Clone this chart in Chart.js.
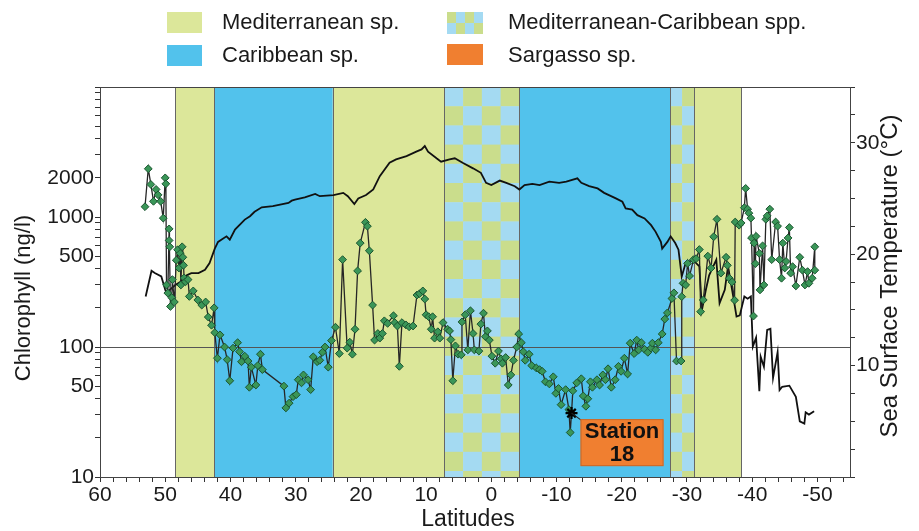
<!DOCTYPE html>
<html><head><meta charset="utf-8">
<script src="https://cdn.jsdelivr.net/npm/chart.js@4/dist/chart.umd.min.js"></script>
<style>
html,body{margin:0;padding:0;background:#fff;}
#wrap{position:relative;width:919px;height:531px;overflow:hidden;}
#c{position:absolute;left:0;top:0;}
.lg{position:absolute;font-family:"Liberation Sans",Arial,sans-serif;font-size:22px;color:#1a1a1a;line-height:22px;white-space:nowrap;}
.sw{position:absolute;}
</style></head><body>
<div id="wrap">
<canvas id="c" width="919" height="531"></canvas>
<div class="sw" style="left:167px;top:12px;width:35px;height:21px;background:#dce79a"></div>
<div class="lg" style="left:222px;top:11px">Mediterranean sp.</div>
<div class="sw" style="left:167px;top:45px;width:35px;height:21px;background:#52c2ec"></div>
<div class="lg" style="left:222px;top:44px">Caribbean sp.</div>
<div class="sw" style="left:447px;top:12px;width:36px;height:22px;background:repeating-conic-gradient(#a4daf2 0 25%, #cadd8c 0 50%) 0 0/18px 22px"></div>
<div class="lg" style="left:508px;top:11px">Mediterranean-Caribbean spp.</div>
<div class="sw" style="left:447px;top:44px;width:36px;height:21px;background:#f07f30"></div>
<div class="lg" style="left:508px;top:44px">Sargasso sp.</div>
</div>
<script>
// ---- data ----
const chlLat = [53.1,52.6,52.2,51.8,51.4,51.1,50.7,50.3,50.0,49.9,49.8,49.6,49.4,49.4,49.3,49.2,49.0,48.9,48.6,48.3,48.1,47.9,47.7,47.6,47.4,47.3,47.2,47.1,46.9,46.5,46.3,45.7,45.0,44.4,43.8,43.4,42.9,42.5,42.4,42.0,41.6,40.9,40.5,40.1,39.6,38.9,38.6,38.3,37.8,37.3,37.1,36.8,36.1,35.8,35.4,35.1,31.8,31.5,31.0,30.4,29.9,29.6,29.1,28.8,28.1,27.7,27.3,26.7,26.3,25.9,25.5,25.0,24.5,23.9,23.3,22.8,22.1,21.7,21.3,20.9,20.5,20.1,19.3,19.0,18.7,18.2,17.9,17.4,17.1,16.7,16.4,15.9,15.0,14.8,14.4,14.1,13.7,13.1,12.6,12.0,11.4,11.0,10.5,10.2,10.0,9.6,9.2,9.0,8.7,8.2,7.9,7.4,6.7,6.4,6.2,5.9,5.5,5.1,4.6,4.5,4.0,3.6,3.2,2.8,2.6,1.9,1.6,1.2,0.9,0.6,0.3,-0.1,-0.6,-1.1,-1.5,-1.7,-2.2,-2.6,-3.0,-3.4,-3.9,-4.2,-4.6,-4.9,-5.2,-5.8,-6.2,-6.9,-7.4,-7.8,-8.3,-8.9,-9.5,-9.9,-10.3,-10.7,-11.4,-11.9,-12.1,-12.3,-12.5,-13.1,-13.8,-14.1,-14.5,-14.8,-15.2,-15.5,-16.2,-16.6,-17.1,-17.5,-17.9,-18.4,-19.0,-19.5,-19.9,-20.4,-20.9,-21.3,-21.9,-22.3,-22.6,-23.0,-23.5,-24.0,-24.5,-24.7,-25.2,-25.6,-26.2,-26.6,-27.0,-27.7,-28.0,-28.4,-29.1,-29.2,-29.4,-29.8,-30.1,-30.4,-31.0,-31.4,-31.9,-32.1,-32.5,-33.2,-33.7,-34.1,-34.6,-35.2,-36.0,-36.2,-36.5,-36.9,-37.3,-37.4,-38.0,-38.3,-38.8,-39.0,-39.3,-39.5,-39.8,-39.9,-40.2,-40.3,-40.5,-40.6,-41.1,-41.2,-41.6,-41.8,-42.1,-42.3,-42.7,-43.0,-43.6,-43.9,-44.2,-44.5,-44.7,-45.0,-45.2,-45.5,-45.7,-45.9,-46.2,-46.7,-47.3,-47.7,-48.1,-48.5,-48.7,-49.2,-49.6,-49.6];
const chlVal = [1200,2350,1780,1320,1630,1480,1320,980,2000,1800,300,260,810,660,590,205,240,330,222,465,560,405,525,300,590,490,425,340,317,330,245,270,230,210,222,170,147,200,129,82,124,100,80,55,98,108,92,77,85,78,49,70,51,72,88,67,50,34,37,41.5,43,56,53,61,56,47,84,77,79,91,100,70,112,142,89,470,98,109,88,137,385,630,910,850,550,210,113,127,117,127,159,152,174,154,145,71,154,148,143,145,251,257,270,234,177,171,137,171,117,131,117,154,137,133,114,55,102,88,87,156,177,95,190,127,95,93,150,182,120,133,113,85,75,93,81,75,83,51,61,79,100,126,108,92,79,88,72,69,67,65,54,52,59,44,48,36,47,33,22,31,46,53,57,42,35,40,54,49,56,51,61,56,68,49,56,71,65,82,62,107,89,113,95,108,96,91,98,107,95,108,126,164,183,236,261,78,78,244,309,300,440,352,470,478,562,187,230,500,405,705,960,370,490,425,338,316,229,915,865,900,1180,1660,1150,1070,980,690,173,630,437,710,525,275,600,300,960,1020,1150,470,915,850,470,338,630,405,455,690,830,370,415,295,490,390,300,380,309,338,590,390];
const tempLat = [53.0,52.1,51.6,50.6,50.0,49.8,49.3,48.5,47.7,46.7,46.0,44.9,43.9,43.2,42.4,41.9,41.4,40.6,40.1,39.3,37.8,37.0,36.3,35.2,33.5,31.1,30.6,30.1,28.6,27.0,26.3,24.2,22.7,22.0,21.0,20.4,19.2,18.1,17.1,15.6,14.6,13.0,11.5,10.7,10.2,9.7,8.4,7.7,6.4,5.6,4.4,2.8,1.6,0.8,0.0,-1.3,-2.3,-3.6,-4.3,-5.1,-6.3,-7.4,-8.9,-10.4,-11.5,-13.2,-13.8,-15.0,-16.3,-17.3,-19.1,-20.1,-20.6,-21.6,-22.4,-23.5,-24.5,-25.2,-26.0,-26.2,-27.0,-27.5,-28.2,-28.7,-29.2,-29.8,-30.9,-31.9,-32.3,-32.9,-33.4,-34.5,-35.0,-35.8,-36.3,-37.1,-37.6,-38.1,-38.8,-39.3,-39.8,-40.1,-40.6,-41.1,-41.3,-41.8,-42.3,-42.8,-43.2,-43.9,-44.2,-44.6,-45.7,-46.7,-47.3,-48.0,-48.2,-48.7,-49.5];
const tempVal = [16.2,18.5,18.3,18.0,16.8,16.5,16.8,17.2,17.5,18.1,18.3,18.3,18.6,19.2,20.5,21.1,21.3,21.6,21.3,22.2,23.1,23.4,23.8,24.2,24.3,24.6,24.8,24.9,25.1,25.4,25.2,25.3,25.5,25.2,24.5,25.0,25.3,25.8,27.0,28.2,28.5,28.8,29.2,29.4,29.7,29.2,28.6,28.3,28.5,28.6,28.2,27.7,27.3,26.4,26.2,26.6,26.4,26.1,25.8,26.2,26.3,26.2,26.5,26.4,26.5,26.8,26.4,26.1,25.9,25.5,25.0,24.7,24.1,24.0,23.5,23.2,22.6,22.0,21.1,20.5,21.1,21.6,21.0,20.4,18.0,19.2,19.5,18.9,15.0,16.8,18.1,19.5,15.6,16.8,18.9,16.2,14.4,14.5,16.2,16.0,16.2,11.7,12.5,7.7,10.8,9.9,13.2,13.3,8.9,11.2,7.8,8.1,8.2,7.2,5.0,4.8,5.8,5.6,5.9];
const stationLat = -12.3, stationChl = 31;
const stationText = ['Station', '18'];
const zoneFrom = [48.5, 42.5, 24.3, 7.2, -4.3, -27.4, -31.1];
const zoneTo   = [42.5, 24.3, 7.2, -4.3, -27.4, -31.1, -38.3];
const zoneType = ['med', 'car', 'med', 'mix', 'car', 'mix', 'med'];
const xTickLabels = [60,50,40,30,20,10,0,-10,-20,-30,-40,-50];
const chlTickLabels = [10,50,100,500,1000,2000];
const tempTickLabels = [10,20,30];
const xTitle = 'Latitudes', yTitle = 'Chlorophyll (ng/l)', y2Title = 'Sea Surface Temperature (°C)';

// ---- style ----
const FONT = '"Liberation Sans", Arial, sans-serif';
const zoneColor = {med:'#dce79a', car:'#52c2ec'};
const checkA = '#a4daf2', checkB = '#cadd8c';

const bgPlugin = {
  id:'bg',
  beforeDraw(chart){
    const {ctx, chartArea:a, scales:{x}} = chart;
    ctx.save();
    const H = a.bottom - a.top;
    zoneFrom.forEach((f,i)=>{
      const x1 = x.getPixelForValue(f), x2 = x.getPixelForValue(zoneTo[i]);
      const l = Math.min(x1,x2), w = Math.abs(x2-x1);
      if (zoneType[i] === 'mix') {
        const cols = Math.max(2, Math.round(w/18));
        const cw = w/cols, ch = 19.2;
        const rows = Math.ceil(H/ch);
        for (let r=0;r<rows;r++) for (let c=0;c<cols;c++){
          ctx.fillStyle = ((r+c)%2===0) ? checkA : checkB;
          const yy = a.top + r*ch;
          ctx.fillRect(l + c*cw, yy, cw+0.5, Math.min(ch+0.5, a.bottom-yy));
        }
      } else {
        ctx.fillStyle = zoneColor[zoneType[i]];
        ctx.fillRect(l, a.top, w, H);
      }
    });
    ctx.strokeStyle = '#666'; ctx.lineWidth = 1;
    const edges = new Set([...zoneFrom, ...zoneTo]);
    edges.forEach(v=>{
      const px = Math.round(x.getPixelForValue(v)) + 0.5;
      ctx.beginPath(); ctx.moveTo(px, a.top); ctx.lineTo(px, a.bottom); ctx.stroke();
    });
    ctx.restore();
  },
  afterDraw(chart){
    const {ctx, chartArea:a, scales:{x, y}} = chart;
    ctx.save();
    ctx.strokeStyle = '#444'; ctx.lineWidth = 1;
    ctx.strokeRect(Math.round(a.left)+0.5, Math.round(a.top)+0.5, Math.round(a.right-a.left), Math.round(a.bottom-a.top));
    // axis titles
    ctx.fillStyle = '#1a1a1a';
    ctx.textAlign = 'center'; ctx.textBaseline = 'middle';
    ctx.font = '23px ' + FONT;
    ctx.fillText(xTitle, 468, 520);
    ctx.save();
    ctx.font = '22px ' + FONT;
    ctx.translate(24, 298); ctx.rotate(-Math.PI/2);
    ctx.fillText(yTitle, 0, 0);
    ctx.restore();
    ctx.save();
    ctx.font = '24px ' + FONT;
    ctx.translate(890, 276); ctx.rotate(-Math.PI/2);
    ctx.fillText(y2Title, 0, 0);
    ctx.restore();
    ctx.restore();
    // Station label
    const sx = x.getPixelForValue(stationLat), sy = y.getPixelForValue(stationChl);
    ctx.save();
    const bx = sx + 9, by = sy + 6, bw = 83, bh = 47;
    ctx.strokeStyle = '#222'; ctx.lineWidth = 1.2;
    ctx.beginPath(); ctx.moveTo(sx, sy); ctx.lineTo(bx + 2, by + 2); ctx.stroke();
    ctx.fillStyle = '#f07f30';
    ctx.fillRect(bx, by, bw, bh);
    ctx.strokeStyle = '#c8692a'; ctx.lineWidth = 1;
    ctx.strokeRect(bx+0.5, by+0.5, bw-1, bh-1);
    ctx.fillStyle = '#111';
    ctx.font = 'bold 22px ' + FONT;
    ctx.textAlign = 'center'; ctx.textBaseline = 'middle';
    ctx.fillText(stationText[0], bx + bw/2, by + 13);
    ctx.fillText(stationText[1], bx + bw/2, by + 36);
    ctx.restore();
  }
};

const chlData = chlLat.map((v,i)=>({x:v, y:chlVal[i]}));
const tempData = tempLat.map((v,i)=>({x:v, y:tempVal[i]}));

new Chart(document.getElementById('c'), {
  type:'line',
  data:{datasets:[
    {label:'Station 18', data:[{x:stationLat, y:stationChl}], yAxisID:'y', showLine:false,
     pointStyle:'star', pointRadius:6, pointBorderColor:'#000', pointBorderWidth:2.2, pointBackgroundColor:'#000', order:0},
    {label:'Chlorophyll', data:chlData, yAxisID:'y', borderColor:'#262626', borderWidth:1.3,
     pointStyle:'rectRot', pointRadius:3.9, pointBackgroundColor:'#3a9658', pointBorderColor:'#1b5530', pointBorderWidth:1, order:1},
    {label:'SST', data:tempData, yAxisID:'y2', borderColor:'#111', borderWidth:1.8, pointRadius:0, order:2}
  ]},
  options:{
    responsive:false, animation:false, devicePixelRatio:1,
    layout:{padding:{top:87,left:0,right:0,bottom:0}},
    plugins:{legend:{display:false}, tooltip:{enabled:false}},
    elements:{line:{tension:0}},
    scales:{
      x:{type:'linear', reverse:true, min:-55, max:60,
        afterBuildTicks:s=>{const t=[]; for(let v=-54; v<=60; v+=2) t.push({value:v}); s.ticks=t;},
        afterFit:s=>{s.height=54;},
        ticks:{autoSkip:false, maxRotation:0, padding:1, color:'#1a1a1a', font:{size:21, family:FONT},
          callback:v=> xTickLabels.includes(v) ? String(v) : ''},
        grid:{drawOnChartArea:false, tickColor:'#333', tickLength:5},
        border:{color:'#444', width:1}
      },
      y:{type:'logarithmic', position:'left', min:10, max:10000,
        afterBuildTicks:s=>{const t=[]; for(let d=10; d<10000; d*=10) for(let m=1;m<10;m++) t.push({value:d*m}); t.push({value:10000}); s.ticks=t;},
        afterFit:s=>{s.width=100;},
        ticks:{autoSkip:false, padding:1, color:'#1a1a1a', font:{size:21, family:FONT},
          callback:v=> chlTickLabels.includes(v) ? String(v) : ''},
        grid:{color:c=> (c.tick && c.tick.value===100) ? '#555' : 'rgba(0,0,0,0)', tickColor:'#333', tickLength:5, lineWidth:1},
        border:{color:'#444', width:1}
      },
      y2:{type:'linear', position:'right', min:0, max:35,
        afterBuildTicks:s=>{const t=[]; for(let v=0; v<=35; v+=2.5) t.push({value:v}); s.ticks=t;},
        afterFit:s=>{s.width=69;},
        ticks:{autoSkip:false, padding:1, color:'#1a1a1a', font:{size:21, family:FONT},
          callback:v=> tempTickLabels.includes(v) ? String(v) : ''},
        grid:{drawOnChartArea:false, tickColor:'#333', tickLength:5},
        border:{color:'#444', width:1}
      }
    }
  },
  plugins:[bgPlugin]
});
</script>
</body></html>
